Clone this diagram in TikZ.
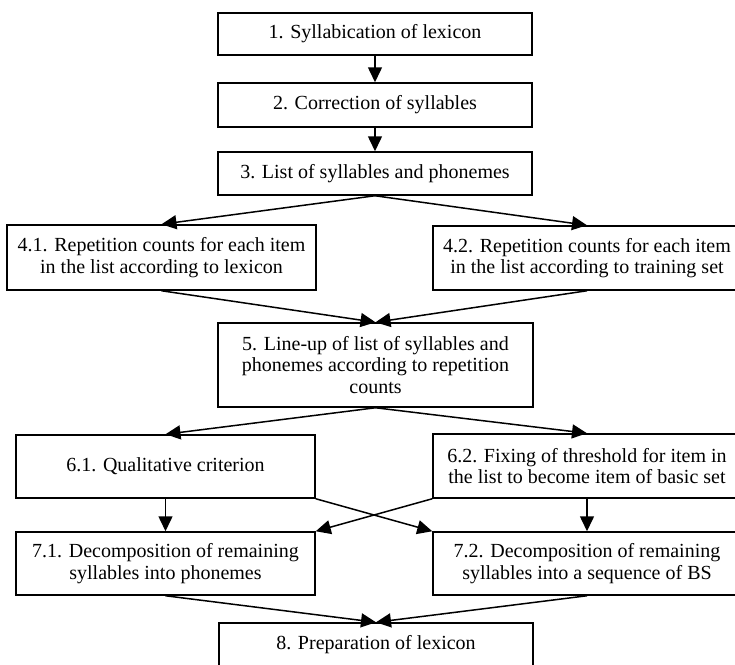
\documentclass[tikz,border=0pt]{standalone}
\usepackage{fontspec}
\setmainfont{Liberation Serif}
\usetikzlibrary{arrows.meta}
\begin{document}
\begin{tikzpicture}[x=1pt,y=-1pt,
  box/.style={draw,line width=1.5pt,rectangle,inner sep=0pt,align=center,
    font=\fontsize{20}{21.5}\selectfont},
  arr/.style={line width=1.5pt,-{Triangle[length=15pt,width=14pt]}}]
\useasboundingbox (0,0) rectangle (735,664);
\clip (0,0) rectangle (735,664);
\node[box,minimum width=314pt,minimum height=42pt] (n1) at (375,34) {1. Syllabication of lexicon};
\node[box,minimum width=314pt,minimum height=44pt] (n2) at (375,105) {2. Correction of syllables};
\node[box,minimum width=314pt,minimum height=43pt] (n3) at (375,173.5) {3. List of syllables and phonemes};
\node[box,minimum width=309pt,minimum height=65pt] (n41) at (161.5,257.5) {4.1. Repetition counts for each item\\in the list according to lexicon};
\node[box,minimum width=308pt,minimum height=64pt] (n42) at (587,258) {4.2. Repetition counts for each item\\in the list according to training set};
\node[box,minimum width=315pt,minimum height=84pt] (n5) at (375.5,365) {5. Line-up of list of syllables and\\phonemes according to repetition\\counts};
\node[box,minimum width=299pt,minimum height=63pt] (n61) at (165.5,466.5) {6.1. Qualitative criterion};
\node[box,minimum width=308pt,minimum height=64pt] (n62) at (587,466) {6.2. Fixing of threshold for item in\\the list to become item of basic set};
\node[box,minimum width=299pt,minimum height=63pt] (n71) at (165.5,563.5) {7.1. Decomposition of remaining\\syllables into phonemes};
\node[box,minimum width=308pt,minimum height=63pt] (n72) at (587,563.5) {7.2. Decomposition of remaining\\syllables into a sequence of BS};
\node[box,minimum width=314pt,minimum height=44pt] (n8) at (376,645) {8. Preparation of lexicon};
\draw[arr] (n1.south) -- (n2.north);
\draw[arr] (n2.south) -- (n3.north);
\draw[arr] (n3.south) -- (n41.north);
\draw[arr] (n3.south) -- (n42.north);
\draw[arr] (n41.south) -- (n5.north);
\draw[arr] (n42.south) -- (n5.north);
\draw[arr] (n5.south) -- (n61.north);
\draw[arr] (n5.south) -- (n62.north);
\draw[arr] (n61.south) -- (n71.north);
\draw[arr] (n62.south) -- (n72.north);
\draw[arr] (n61.south east) -- (n72.north west);
\draw[arr] (n62.south west) -- (n71.north east);
\draw[arr] (n71.south) -- (n8.north);
\draw[arr] (n72.south) -- (n8.north);
\end{tikzpicture}
\end{document}
